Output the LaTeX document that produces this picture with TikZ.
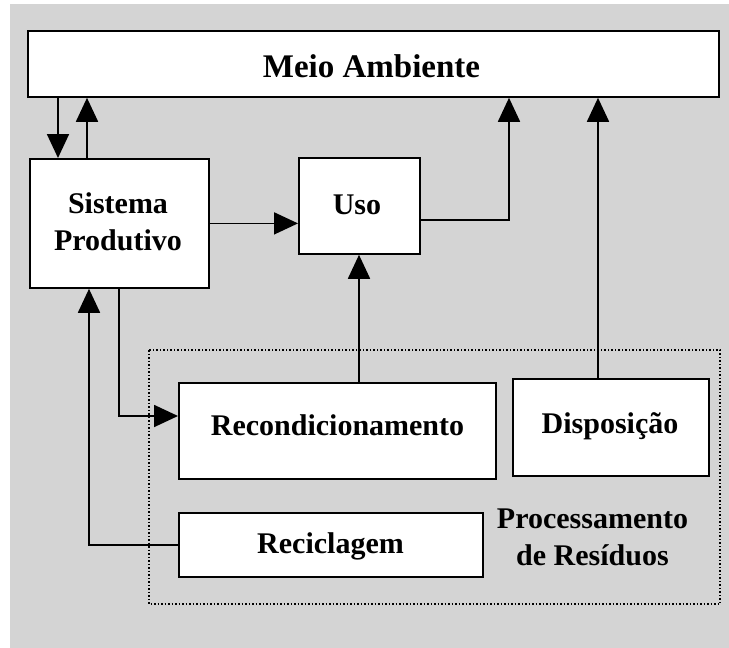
\documentclass[tikz,border=0pt]{standalone}
\usepackage{fontspec}
\setmainfont{Liberation Serif}
\usetikzlibrary{arrows.meta,positioning}
\begin{document}
\begin{tikzpicture}[x=1pt,y=-1pt,
  box/.style={draw=black,fill=white,line width=1.8pt,inner sep=0pt},
  lbl/.style={font=\fontsize{30}{37}\selectfont\bfseries,inner sep=0pt,anchor=base},
  conn/.style={line width=1.8pt,-{Triangle[length=24pt,width=22pt]}}]
\useasboundingbox (0,0) rectangle (729,648);
\fill[white] (0,0) rectangle (729,648);
\fill[black!17] (10,4) rectangle (729,648);
% boxes
\node[box,minimum width=691pt,minimum height=66pt,anchor=north west] (meio) at (27,30) {};
\node[lbl,font=\fontsize{33}{37}\selectfont\bfseries] (meiot) at (371.5,77) {Meio Ambiente};
\node[box,minimum width=179pt,minimum height=129pt,anchor=north west] (sist) at (29,158) {};
\node[lbl] (sist1) at (118,213) {Sistema};
\node[lbl] (sist2) at (118,250) {Produtivo};
\node[box,minimum width=121pt,minimum height=96pt,anchor=north west] (uso) at (298,157) {};
\node[lbl] (usot) at (357,214) {Uso};
% dotted group
\draw[line width=1.5pt,dotted] (149,350) rectangle (720,604);
\node[box,minimum width=317pt,minimum height=96pt,anchor=north west] (recon) at (178,382) {};
\node[lbl] (recont) at (337.5,435) {Recondicionamento};
\node[box,minimum width=196pt,minimum height=97pt,anchor=north west] (disp) at (512,378) {};
\node[lbl] (dispt) at (610,433) {Disposição};
\node[box,minimum width=304pt,minimum height=64pt,anchor=north west] (recic) at (178,512) {};
\node[lbl] (recict) at (330.5,553) {Reciclagem};
\node[lbl] (proc1) at (592.5,528) {Processamento};
\node[lbl] (proc2) at (592.5,565) {de Resíduos};
% connectors
\draw[conn] (meio.south west -| 58,0) -- (sist.north west -| 58,0);
\draw[conn] (sist.north west -| 87,0) -- (meio.south west -| 87,0);
\draw[conn] (sist.east) -- (uso.west |- sist.east);
\draw[conn] (uso.east |- 0,220) -| (meio.south west -| 509,0);
\draw[conn] (disp.north west -| 598,0) -- (meio.south west -| 598,0);
\draw[conn] (recon.north west -| 359,0) -- (uso.south west -| 359,0);
\draw[conn] (sist.south west -| 119,0) |- (recon.west |- 0,416);
\draw[conn] (recic.west) -| (sist.south west -| 89,0);
\end{tikzpicture}
\end{document}
